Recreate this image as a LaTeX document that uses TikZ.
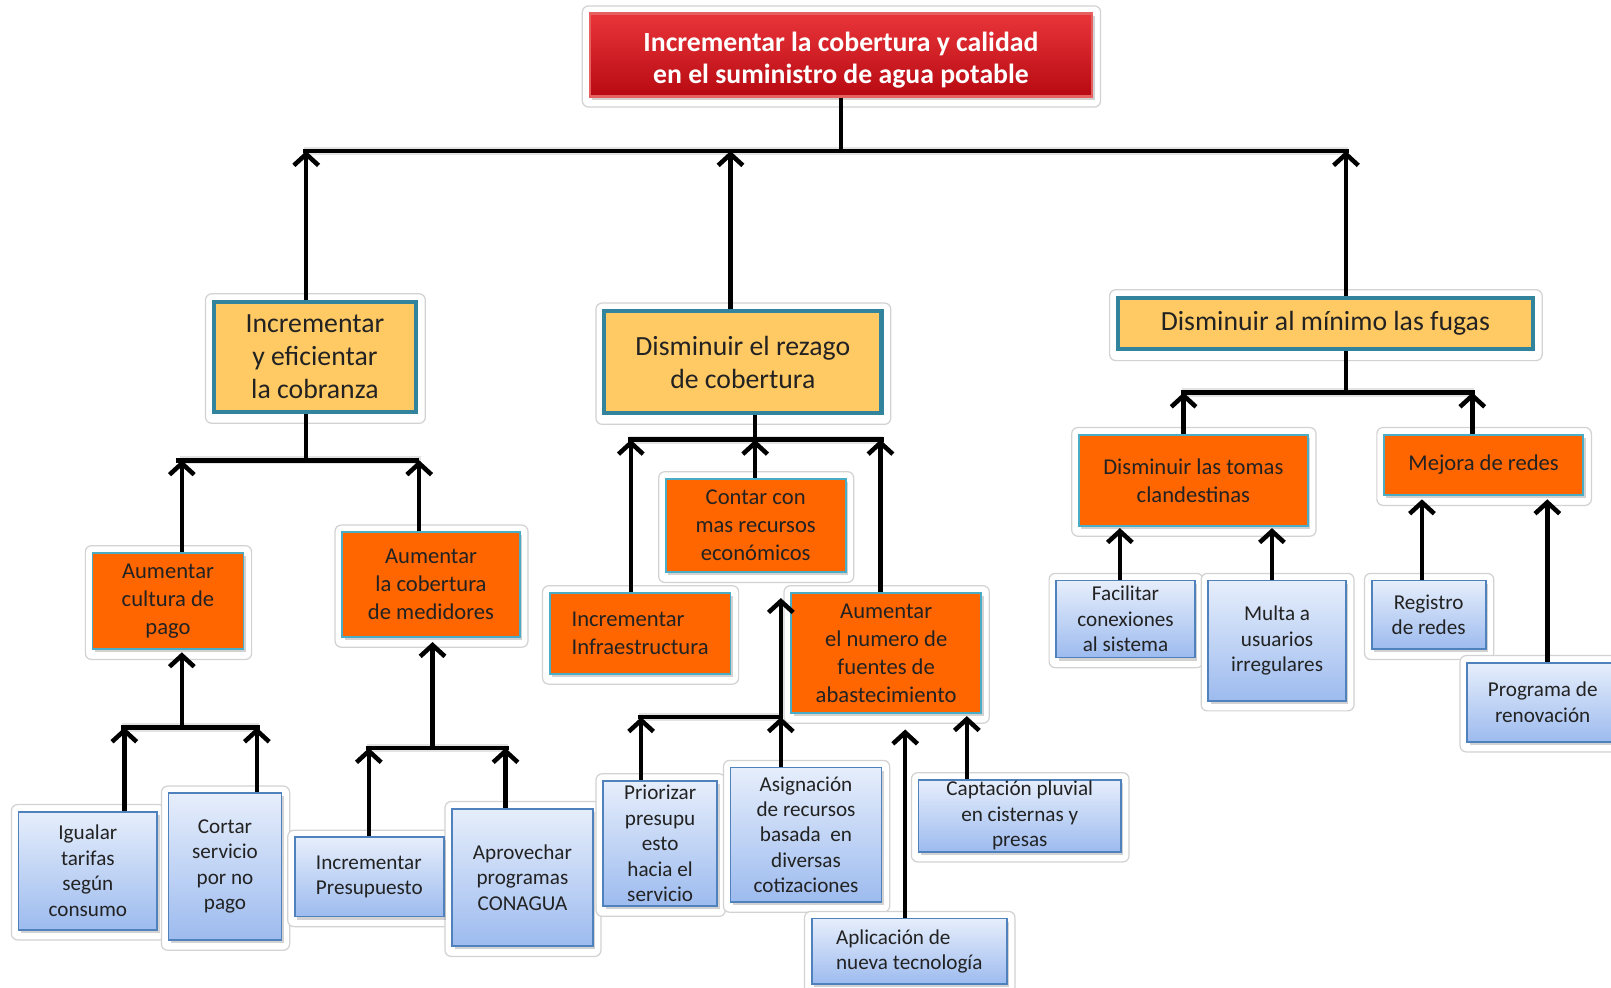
\documentclass[tikz,border=0pt]{standalone}
\usepackage{fontspec}
\setmainfont{Carlito}
\usetikzlibrary{arrows.meta,shadows,backgrounds}
\definecolor{ttlT}{HTML}{E8353A}
\definecolor{ttlB}{HTML}{B80A12}
\definecolor{ttlD}{HTML}{E66060}
\definecolor{yel}{HTML}{FFC964}
\definecolor{tealD}{HTML}{31849B}
\definecolor{org}{HTML}{FF6600}
\definecolor{tealL}{HTML}{4BACC6}
\definecolor{bluT}{HTML}{E6EEFB}
\definecolor{bluB}{HTML}{9DBBEF}
\definecolor{bluD}{HTML}{4F81BD}
\definecolor{txt}{HTML}{222222}
\begin{document}
\begin{tikzpicture}[x=0.5pt,y=-0.5pt,
  span/.style n args={4}{at={({(#1+#3)/2},{(#2+#4)/2})}, minimum width={(#3-#1)*0.5pt}, minimum height={(#4-#2)*0.5pt}},
  base/.style={inner sep=0pt, align=center, text=txt, anchor=center},
  goal/.style={base, draw=ttlD, line width=1.2pt, top color=ttlT, bottom color=ttlB, text=white,
    font=\bfseries\fontsize{13.5}{16}\selectfont, drop shadow={shadow xshift=1.2pt, shadow yshift=-1.5pt, opacity=.35}},
  ybox/.style={base, fill=yel, draw=tealD, line width=2pt, font=\fontsize{13.5}{16}\selectfont},
  obox/.style={base, fill=org, draw=tealL, line width=0.9pt, font=\fontsize{11}{13.6}\selectfont,
    drop shadow={shadow xshift=1.2pt, shadow yshift=-1.5pt, opacity=.35}},
  bbox/.style={base, top color=bluT, bottom color=bluB, draw=bluD, line width=0.9pt, font=\fontsize{10.3}{12.4}\selectfont,
    drop shadow={shadow xshift=1.2pt, shadow yshift=-1.5pt, opacity=.35}},
  halo/.style={draw=gray!35, fill=white, line width=0.6pt, rounded corners=3pt},
  link/.style={line width=2.2pt, black},
  barsh/.style={line width=4pt, gray!22, yshift=-2.6pt},
  arr/.style={link, -{Straight Barb[length=5.5pt,width=12pt]}},
]
\useasboundingbox (0,0) rectangle (1568,961);
\clip (0,0) rectangle (1568,961);

% ---------- nodes ----------
\node[goal, span={574}{13}{1063}{94}] (title) {\rule{0pt}{14.5pt}Incrementar la cobertura y calidad\\en el suministro de agua potable};

\node[ybox, span={208}{294}{405}{401}] (cobr) {Incrementar\\y eficientar\\la cobranza};
\node[ybox, span={588}{303}{858}{402}] (rez) {Disminuir el rezago\\de cobertura};
\node[ybox, span={1088}{290}{1492}{340}] (fug) {Disminuir al mínimo las fugas};

\node[obox, span={90}{538}{237}{632}] (cult) {Aumentar\\cultura de\\pago};
\node[obox, span={333}{518}{506}{620}] (med) {Aumentar\\la cobertura\\de medidores};
\node[obox, span={648}{466}{823}{557}] (cont) {Contar con\\mas recursos\\económicos};
\node[obox, span={535}{577}{711}{656}, align=left] (infra) {Incrementar\\Infraestructura};
\node[obox, span={770}{577}{955}{694}] (fuen) {Aumentar\\el numero de\\fuentes de\\abastecimiento};
\node[obox, span={1050}{423}{1273}{512}] (tomas) {Disminuir las tomas\\clandestinas};
\node[obox, span={1347}{423}{1541}{482}] (mejora) {Mejora de redes};

\node[bbox, span={18}{790}{153}{905}] (igu) {Igualar\\tarifas\\según\\consumo};
\node[bbox, span={164}{772}{274}{915}] (cort) {Cortar\\servicio\\por no\\pago};
\node[bbox, span={287}{815}{432}{892}, align=left] (pres) {Incrementar\\Presupuesto};
\node[bbox, span={440}{787}{577}{921}] (apro) {Aprovechar\\programas\\CONAGUA};
\node[bbox, span={587}{760}{698}{882}] (prio) {Priorizar\\presupu\\esto\\hacia el\\servicio};
\node[bbox, span={711}{747}{858}{878}] (asig) {Asignación\\de recursos\\basada~ en\\diversas\\cotizaciones};
\node[bbox, span={790}{894}{980}{958}, align=left] (apli) {Aplicación de\\nueva tecnología};
\node[bbox, span={894}{759}{1091}{829}] (capt) {Captación pluvial\\en cisternas y\\presas};
\node[bbox, span={1028}{565}{1163}{640}] (faci) {Facilitar\\conexiones\\al sistema};
\node[bbox, span={1176}{565}{1310}{682}] (mult) {Multa a\\usuarios\\irregulares};
\node[bbox, span={1335}{565}{1446}{632}] (regi) {Registro\\de redes};
\node[bbox, span={1428}{645}{1575}{722}] (prog) {Programa de\\renovación};

% ---------- halos ----------
\begin{scope}[on background layer]
\foreach \n in {title,cobr,rez,fug,cult,med,cont,infra,fuen,tomas,mejora,igu,cort,pres,apro,prio,asig,apli,capt,faci,mult,regi,prog}
  \draw[halo] ([shift={(-6,-6)}]\n.north west) rectangle ([shift={(7,9)}]\n.south east);
\end{scope}

% ---------- bar coordinates ----------
\coordinate (tA) at (298,147); \coordinate (tB) at (711,147); \coordinate (tC) at (1310,147);
\coordinate (cA) at (177,448); \coordinate (cB) at (408,448);
\coordinate (uA) at (121,708); \coordinate (uT) at (177,708); \coordinate (uB) at (250,708);
\coordinate (mA) at (359,728); \coordinate (mT) at (421,728); \coordinate (mB) at (492,728);
\coordinate (rA) at (614,428); \coordinate (rB) at (735,428); \coordinate (rC) at (857,428);
\coordinate (fA) at (624,698); \coordinate (fB) at (760,698);
\coordinate (aT) at (881,710); \coordinate (qT) at (941,697);
\coordinate (gA) at (1152,382); \coordinate (gB) at (1433,382);
\coordinate (kA) at (1090,514); \coordinate (kB) at (1238,514);
\coordinate (jA) at (1384,486); \coordinate (jB) at (1506,486);

% ---------- bar shadows ----------
\foreach \a/\b in {tA/tC, cA/cB, uA/uB, mA/mB, rA/rC, fA/fB, gA/gB}
  \draw[barsh] ([xshift=-1pt]\a) -- ([xshift=1pt]\b);

% ---------- bars and trunks ----------
\draw[link] ([xshift=-1.5pt]tA) -- ([xshift=1.5pt]tC);
\draw[link] (title.south) -- (title.south |- tA);
\draw[link] ([xshift=-3pt]cA) -- (cB);
\draw[link] (cobr.south -| tA) -- (tA |- cA);
\draw[link] ([xshift=-1.5pt]uA) -- ([xshift=1.5pt]uB);
\draw[link] ([xshift=-1.5pt]mA) -- ([xshift=1.5pt]mB);
\draw[link] ([xshift=-1.5pt]rA) -- ([xshift=1.5pt]rC);
\draw[link] (rez.south -| rB) -- (rB);
\draw[link] ([xshift=-1.5pt]fA) -- ([xshift=1pt]fB);
\draw[link] ([xshift=-1.5pt]gA) -- ([xshift=1.5pt]gB);
\draw[link] (fug.south -| tC) -- (tC |- gA);

% ---------- arrows ----------
\draw[arr] (cobr.north -| tA) -- (tA);
\draw[arr] (rez.north -| tB) -- (tB);
\draw[arr] (fug.north -| tC) -- (tC);

\draw[arr] (cult.north -| cA) -- (cA);
\draw[arr] (med.north -| cB) -- (cB);
\draw[arr] (uT) -- ([yshift=-1pt]cult.south -| uT);
\draw[arr] (igu.north -| uA) -- (uA);
\draw[arr] (cort.north -| uB) -- (uB);
\draw[arr] (mT) -- ([yshift=-2pt]med.south -| mT);
\draw[arr] (pres.north -| mA) -- (mA);
\draw[arr] (apro.north -| mB) -- (mB);

\draw[arr] (infra.north -| rA) -- (rA);
\draw[arr] (cont.north -| rB) -- (rB);
\draw[arr] (fuen.north -| rC) -- (rC);
\draw[arr] (fB) -- ([yshift=-3pt]fB |- fuen.north);
\draw[arr] (prio.north -| fA) -- (fA);
\draw[arr] (asig.north -| fB) -- (fB);
\draw[arr] (apli.north -| aT) -- (aT);
\draw[arr] (capt.north -| qT) -- (qT);

\draw[arr] (tomas.north -| gA) -- (gA);
\draw[arr] (mejora.north -| gB) -- (gB);
\draw[arr] (faci.north -| kA) -- (kA);
\draw[arr] (mult.north -| kB) -- (kB);
\draw[arr] (regi.north -| jA) -- (jA);
\draw[arr] (prog.north -| jB) -- (jB);
\end{tikzpicture}
\end{document}
